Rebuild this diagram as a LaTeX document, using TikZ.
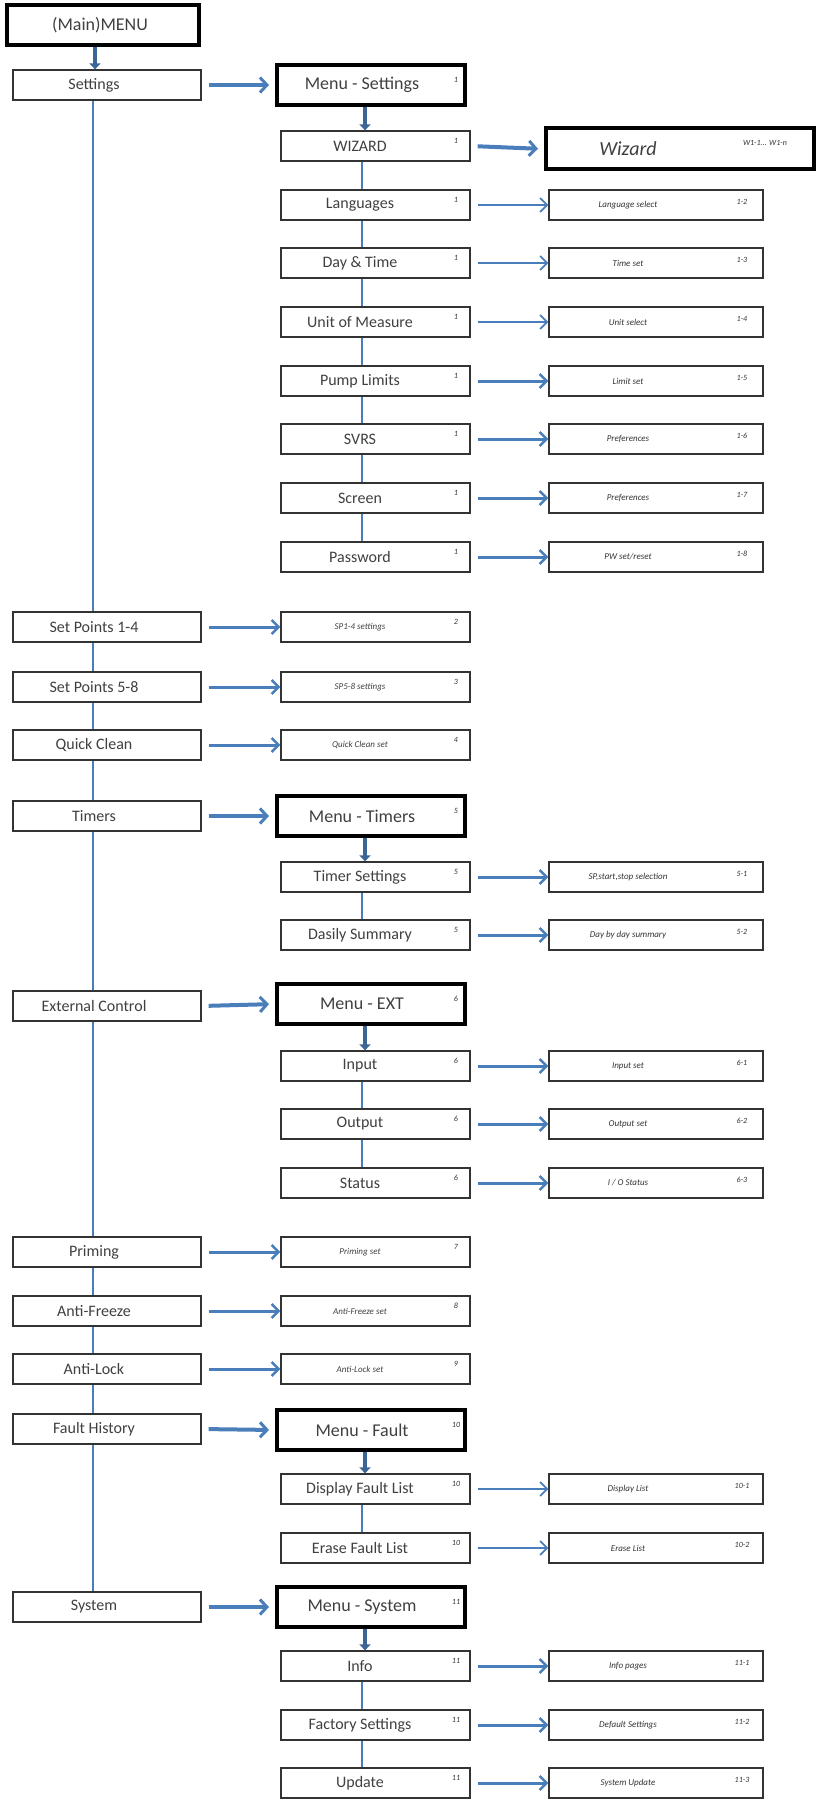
\documentclass[tikz,border=0pt]{standalone}
\usepackage{fontspec}
\setmainfont{Carlito}
\usetikzlibrary{arrows.meta,backgrounds}
\definecolor{ablue}{HTML}{4A7EBB}
\definecolor{bedge}{HTML}{333333}
\newcommand{\rtxtfont}{\fontsize{9}{10}\selectfont\itshape}
\tikzset{
  x=1pt,y=-1pt,
  lbox/.style={draw=bedge,line width=1.3pt,fill=white,minimum width=188pt,minimum height=30pt,inner sep=0pt},
  mbox/.style={draw=bedge,line width=1.3pt,fill=white,minimum width=189pt,minimum height=30pt,inner sep=0pt},
  rbox/.style={draw=bedge,line width=1.3pt,fill=white,minimum width=214pt,minimum height=30pt,inner sep=0pt},
  tbox/.style={draw=black,line width=4pt,fill=white,minimum width=188pt,minimum height=40pt,inner sep=0pt},
  mtxt/.style={font=\fontsize{16}{18}\selectfont,text=black!75,inner sep=0pt},
  ttxt/.style={font=\fontsize{18}{20}\selectfont,text=black!75,inner sep=0pt},
  rtxt/.style={font=\rtxtfont,text=black!80,inner sep=0pt},
  ntxt/.style={font=\fontsize{8}{9}\selectfont\itshape,text=black!80,inner sep=0pt},
  arr/.style={draw=ablue,line width=3pt,-{Straight Barb[length=7pt,width=14pt,line width=2.5pt]},shorten <=7pt},
  arrthin/.style={draw=ablue,line width=1.6pt,-{Straight Barb[length=7pt,width=14pt,line width=1.8pt]},shorten <=7pt},
  arrbig/.style={draw=ablue,line width=4pt,-{Straight Barb[length=7pt,width=15pt,line width=3pt]},shorten <=7pt,shorten >=6pt},
  down/.style={draw=ablue!80!black,line width=4pt,-{Triangle[length=6pt,width=11pt]}},
  trunk/.style={draw=ablue,line width=2.2pt},
  mtrunk/.style={draw=ablue,line width=1.4pt},
}
\newcommand{\LB}[3]{\node[lbox] (#1) at (107,#2) {};\node[mtxt] (#1-t) at (94,#2) {#3};}
\newcommand{\MB}[4]{\node[mbox] (#1) at (375.5,#2) {};\node[mtxt] (#1-t) at (360,#2) {#3};\node[ntxt] (#1-n) at (456,#2-5) {#4};}
\newcommand{\TB}[4]{\node[tbox] (#1) at (371,#2) {};\node[ttxt] (#1-t) at (362,#2) {#3};\node[ntxt] (#1-n) at (456,#2-5) {#4};}
\newcommand{\RB}[4]{\node[rbox] (#1) at (656,#2) {};\node[rtxt] (#1-t) at (628,#2) {#3};\node[ntxt] (#1-n) at (742,#2-3) {#4};}
\begin{document}
\begin{tikzpicture}
\useasboundingbox (0,0) rectangle (820,1803);
\coordinate (tl) at (93,0);
\coordinate (tm) at (362,0);
\coordinate (dl) at (95,0);
\coordinate (dm) at (365,0);
% main
\node[draw=black,line width=4pt,fill=white,minimum width=192pt,minimum height=40pt] (main) at (103,25) {};
\node[ttxt] (main-t) at (100,25) {(Main)MENU};
% left column
\LB{settings}{85}{Settings}
\LB{sp14}{627}{Set Points 1-4}
\LB{sp58}{687}{Set Points 5-8}
\LB{qc}{745}{Quick Clean}
\LB{timers}{816}{Timers}
\LB{ext}{1006}{External Control}
\LB{prim}{1252}{Priming}
\LB{afr}{1311}{Anti-Freeze}
\LB{alk}{1369}{Anti-Lock}
\LB{fault}{1429}{Fault History}
\LB{system}{1607}{System}
% settings submenu
\TB{mset}{85}{Menu - Settings}{1}
\MB{wiz}{146}{WIZARD}{1}
\MB{lang}{205}{Languages}{1}
\MB{day}{263}{Day \& Time}{1}
\MB{unit}{322}{Unit of Measure}{1}
\MB{pump}{381}{Pump Limits}{1}
\MB{svrs}{439}{SVRS}{1}
\MB{scr}{498}{Screen}{1}
\MB{pw}{557}{Password}{1}
\node[draw=black,line width=4pt,fill=white,minimum width=268pt,minimum height=41pt] (wizb) at (680,149) {};
\node[font=\fontsize{20}{22}\selectfont\itshape,text=black!75] (wizb-t) at (628,149) {Wizard};
\node[ntxt] (wizb-n) at (765,143) {W1-1... W1-n};
\RB{rlang}{205}{Language select}{1-2}
\RB{rday}{263}{Time set}{1-3}
\RB{runit}{322}{Unit select}{1-4}
\RB{rpump}{381}{Limit set}{1-5}
\RB{rsvrs}{439}{Preferences}{1-6}
\RB{rscr}{498}{Preferences}{1-7}
\RB{rpw}{557}{PW set/reset}{1-8}
% simple items
\MB{msp14}{627}{\rtxtfont SP1-4 settings}{2}
\MB{msp58}{687}{\rtxtfont SP5-8 settings}{3}
\MB{mqc}{745}{\rtxtfont Quick Clean set}{4}
% timers
\TB{mtim}{816}{Menu - Timers}{5}
\MB{tset}{877}{Timer Settings}{5}
\MB{tday}{935}{Dasily Summary}{5}
\RB{rtset}{877}{SP,start,stop selection}{5-1}
\RB{rtday}{935}{Day by day summary}{5-2}
% ext
\TB{mext}{1004}{Menu - EXT}{6}
\MB{inp}{1066}{Input}{6}
\MB{outp}{1124}{Output}{6}
\MB{stat}{1183}{Status}{6}
\RB{rinp}{1066}{Input set}{6-1}
\RB{routp}{1124}{Output set}{6-2}
\RB{rstat}{1183}{I / O Status}{6-3}
\MB{mprim}{1252}{\rtxtfont Priming set}{7}
\MB{mafr}{1311}{\rtxtfont Anti-Freeze set}{8}
\MB{malk}{1369}{\rtxtfont Anti-Lock set}{9}
% fault
\TB{mfault}{1430}{Menu - Fault}{10}
\MB{disp}{1489}{Display Fault List}{10}
\MB{eras}{1548}{Erase Fault List}{10}
\RB{rdisp}{1489}{Display List}{10-1}
\RB{reras}{1548}{Erase List}{10-2}
% system
\TB{msys}{1607}{Menu - System}{11}
\MB{info}{1666}{Info}{11}
\MB{fact}{1725}{Factory Settings}{11}
\MB{upd}{1783}{Update}{11}
\RB{rinfo}{1666}{Info pages}{11-1}
\RB{rfact}{1725}{Default Settings}{11-2}
\RB{rupd}{1783}{System Update}{11-3}
% trunks
\begin{pgfonlayer}{background}
\draw[trunk] (settings.south -| tl) -- (system.north -| tl);
\draw[mtrunk] (wiz.south -| tm) -- (pw.north -| tm);
\draw[mtrunk] (tset.south -| tm) -- (tday.north -| tm);
\draw[mtrunk] (inp.south -| tm) -- (stat.north -| tm);
\draw[mtrunk] (disp.south -| tm) -- (eras.north -| tm);
\draw[mtrunk] (info.south -| tm) -- (upd.north -| tm);
\end{pgfonlayer}
% down arrows
\draw[down] (main.south -| dl) -- (settings.north -| dl);
\draw[down] (mset.south -| dm) -- (wiz.north -| dm);
\draw[down] (mtim.south -| dm) -- (tset.north -| dm);
\draw[down] (mext.south -| dm) -- (inp.north -| dm);
\draw[down] (mfault.south -| dm) -- (disp.north -| dm);
\draw[down] (msys.south -| dm) -- (info.north -| dm);
% left to middle
\draw[arrbig] (settings.east) -- (mset.west);
\draw[arrbig] (timers.east) -- (mtim.west);
\draw[arrbig] (ext.east) -- (mext.west);
\draw[arrbig] (fault.east) -- (mfault.west);
\draw[arrbig] (system.east) -- (msys.west);
\draw[arr] (sp14.east) -- (msp14.west);
\draw[arr] (sp58.east) -- (msp58.west);
\draw[arr] (qc.east) -- (mqc.west);
\draw[arr] (prim.east) -- (mprim.west);
\draw[arr] (afr.east) -- (mafr.west);
\draw[arr] (alk.east) -- (malk.west);
% middle to right
\draw[arrbig] (wiz.east) -- (wizb.west);
\draw[arrthin] (lang.east) -- (rlang.west);
\draw[arrthin] (day.east) -- (rday.west);
\draw[arrthin] (unit.east) -- (runit.west);
\draw[arr] (pump.east) -- (rpump.west);
\draw[arr] (svrs.east) -- (rsvrs.west);
\draw[arr] (scr.east) -- (rscr.west);
\draw[arr] (pw.east) -- (rpw.west);
\draw[arr] (tset.east) -- (rtset.west);
\draw[arr] (tday.east) -- (rtday.west);
\draw[arr] (inp.east) -- (rinp.west);
\draw[arr] (outp.east) -- (routp.west);
\draw[arr] (stat.east) -- (rstat.west);
\draw[arrthin] (disp.east) -- (rdisp.west);
\draw[arrthin] (eras.east) -- (reras.west);
\draw[arr] (info.east) -- (rinfo.west);
\draw[arr] (fact.east) -- (rfact.west);
\draw[arr] (upd.east) -- (rupd.west);
\end{tikzpicture}
\end{document}
